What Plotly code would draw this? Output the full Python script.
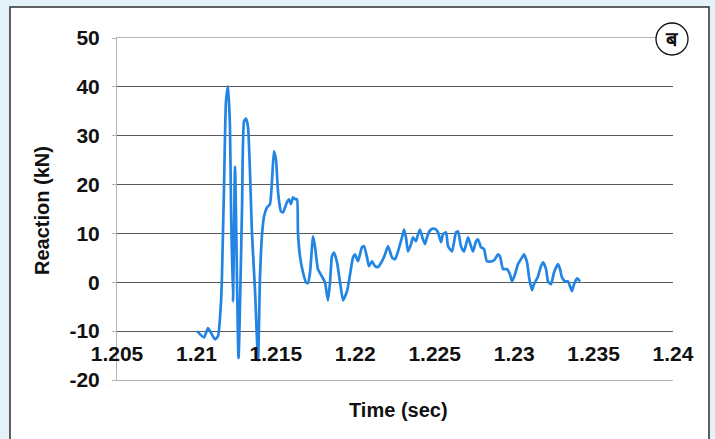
import plotly.graph_objects as go

# Reaction force time history (kN) against time (sec)
time_s = [
    1.21004, 1.21048, 1.21073, 1.21117, 1.21136, 1.21155, 1.21161, 1.21174, 1.21186, 1.21199,
    1.21211, 1.21218, 1.21230, 1.21243, 1.21265, 1.21287, 1.21300, 1.21312, 1.21325, 1.21350,
    1.21369, 1.21388, 1.21400, 1.21413, 1.21426, 1.21444, 1.21463, 1.21476, 1.21488, 1.21501,
    1.21514, 1.21532, 1.21545, 1.21570, 1.21583, 1.21595, 1.21608, 1.21621, 1.21633, 1.21639,
    1.21652, 1.21671, 1.21690, 1.21702, 1.21715, 1.21728, 1.21734, 1.21746, 1.21765, 1.21790,
    1.21809, 1.21828, 1.21841, 1.21853, 1.21866, 1.21885, 1.21904, 1.21923, 1.21948, 1.21967,
    1.21986, 1.21998, 1.22017, 1.22042, 1.22055, 1.22074, 1.22086, 1.22105, 1.22124, 1.22143,
    1.22168, 1.22187, 1.22206, 1.22231, 1.22250, 1.22269, 1.22294, 1.22307, 1.22319, 1.22332,
    1.22351, 1.22363, 1.22382, 1.22395, 1.22407, 1.22426, 1.22439, 1.22451, 1.22470, 1.22489,
    1.22508, 1.22521, 1.22540, 1.22552, 1.22571, 1.22584, 1.22609, 1.22634, 1.22647, 1.22665,
    1.22684, 1.22710, 1.22728, 1.22741, 1.22760, 1.22772, 1.22791, 1.22810, 1.22829, 1.22861,
    1.22879, 1.22898, 1.22911, 1.22930, 1.22955, 1.22974, 1.22987, 1.23005, 1.23024, 1.23050,
    1.23062, 1.23081, 1.23094, 1.23112, 1.23125, 1.23150, 1.23169, 1.23182, 1.23201, 1.23213,
    1.23232, 1.23251, 1.23276, 1.23289, 1.23301, 1.23320, 1.23339, 1.23364, 1.23377, 1.23396,
    1.23415,
]
reaction_kn = [
    -10.0, -11.3, -9.4, -11.7, -11.0, -3.9, 1.6, 20.0, 37.0, 40.1,
    32.0, 15.0, -4.0, 23.7, -15.5, 15.0, 33.0, 33.5, 31.7, 9.8,
    -1.8, -16.0, 1.0, 9.8, 13.5, 15.3, 16.0, 21.0, 26.8, 25.0,
    18.4, 14.5, 14.3, 16.4, 17.0, 16.0, 17.4, 17.0, 17.0, 10.2,
    5.3, 2.0, 0.0, -0.2, 2.0, 7.4, 9.4, 7.4, 2.7, 1.2,
    0.0, -3.7, 0.0, 5.3, 6.1, 4.1, 0.0, -3.7, -1.8, 1.6,
    5.1, 5.7, 4.3, 7.2, 7.4, 5.1, 3.3, 4.3, 3.3, 3.1,
    4.3, 5.7, 7.4, 5.1, 4.7, 6.3, 9.2, 10.8, 9.2, 6.3,
    7.8, 9.2, 8.4, 9.8, 10.8, 8.8, 7.8, 9.2, 10.6, 11.0,
    10.8, 10.2, 8.2, 9.8, 10.2, 7.4, 6.3, 10.2, 10.4, 7.4,
    6.3, 9.2, 7.4, 6.3, 8.4, 8.8, 7.2, 6.8, 4.3, 4.3,
    4.7, 5.7, 5.3, 2.7, 2.7, 1.6, 0.2, 1.6, 3.7, 5.1,
    5.7, 4.1, 1.0, -1.6, -0.4, 1.2, 3.3, 4.1, 2.7, 0.2,
    -0.4, 2.0, 3.7, 2.7, 1.0, 0.2, 0.2, -1.8, -0.4, 0.8,
    0.2,
]

x_ticks = [1.205, 1.21, 1.215, 1.22, 1.225, 1.23, 1.235, 1.24]
x_tick_labels = ["1.205", "1.21", "1.215", "1.22", "1.225", "1.23", "1.235", "1.24"]
y_ticks = [-20, -10, 0, 10, 20, 30, 40, 50]
y_tick_labels = ["-20", "-10", "0", "10", "20", "30", "40", "50"]

FONT = "Liberation Sans, Arial, sans-serif"
GRID = "#5a5a5a"
LIGHT = "#b4b4b4"

fig = go.Figure()
fig.add_trace(go.Scatter(
    x=time_s, y=reaction_kn, mode="lines",
    line=dict(color="#2285e3", width=2.7, shape="spline", smoothing=0.5),
    showlegend=False, hoverinfo="skip",
))

fig.update_layout(
    width=715, height=439,
    margin=dict(l=117, r=42, t=38, b=59),
    paper_bgcolor="#e4f2f9",
    plot_bgcolor="white",
    font=dict(family=FONT, size=20, color="#111111"),
    xaxis=dict(
        range=[1.205, 1.24], tickvals=x_ticks, ticktext=x_tick_labels,
        anchor="free", position=(380 - 332) / 342,
        showgrid=False, zeroline=False, showline=False,
        ticks="", ticklabelstandoff=7,
        tickfont=dict(family=FONT, size=21, color="#111111", weight="bold"),
    ),
    xaxis2=dict(
        range=[1.205, 1.24], overlaying="x", anchor="y", side="bottom",
        showgrid=False, zeroline=False, showticklabels=False, ticks="",
        showline=True, mirror=True, linecolor=LIGHT, linewidth=1,
    ),
    yaxis=dict(
        range=[-20, 50], tickvals=y_ticks, ticktext=y_tick_labels,
        showgrid=True, gridcolor=GRID, gridwidth=1, zeroline=False,
        showline=True, linecolor=LIGHT, linewidth=1,
        ticks="outside", ticklen=4, tickcolor=LIGHT, ticklabelstandoff=8,
        tickfont=dict(family=FONT, size=21, color="#111111", weight="bold"),
    ),
)

# invisible trace so the overlay axis (top/bottom frame lines) is rendered
fig.add_trace(go.Scatter(x=[1.205], y=[-20], xaxis="x2", mode="markers",
                         marker=dict(opacity=0), showlegend=False, hoverinfo="skip"))

# white panel with dark frame
fig.add_shape(type="rect", xref="paper", yref="paper",
              x0=(10 - 117) / 556, x1=(709 - 117) / 556,
              y0=(380 - 460) / 342, y1=(380 - 7) / 342,
              fillcolor="white", line=dict(color="#2e2e2e", width=1.5), layer="below")

# panel label in a circle
cx, cy, r = (672 - 117) / 556, (380 - 39) / 342, 16
fig.add_shape(type="circle", xref="paper", yref="paper",
              x0=cx - r / 556, x1=cx + r / 556, y0=cy - r / 342, y1=cy + r / 342,
              fillcolor="white", line=dict(color="#111111", width=1.3))
fig.add_annotation(xref="paper", yref="paper", x=cx, y=cy, text="<b>ब</b>",
                   showarrow=False, xanchor="center", yanchor="middle",
                   font=dict(size=20, color="#111111"))

# axis titles
fig.add_annotation(xref="paper", yref="paper", x=(398 - 117) / 556, y=(380 - 410) / 342,
                   text="<b>Time (sec)</b>", showarrow=False,
                   xanchor="center", yanchor="middle", font=dict(size=20))
fig.add_annotation(xref="paper", yref="paper", x=(42 - 117) / 556, y=(380 - 211) / 342,
                   text="<b>Reaction (kN)</b>", showarrow=False, textangle=-90,
                   xanchor="center", yanchor="middle", font=dict(size=20))

fig.write_html("out.html")
